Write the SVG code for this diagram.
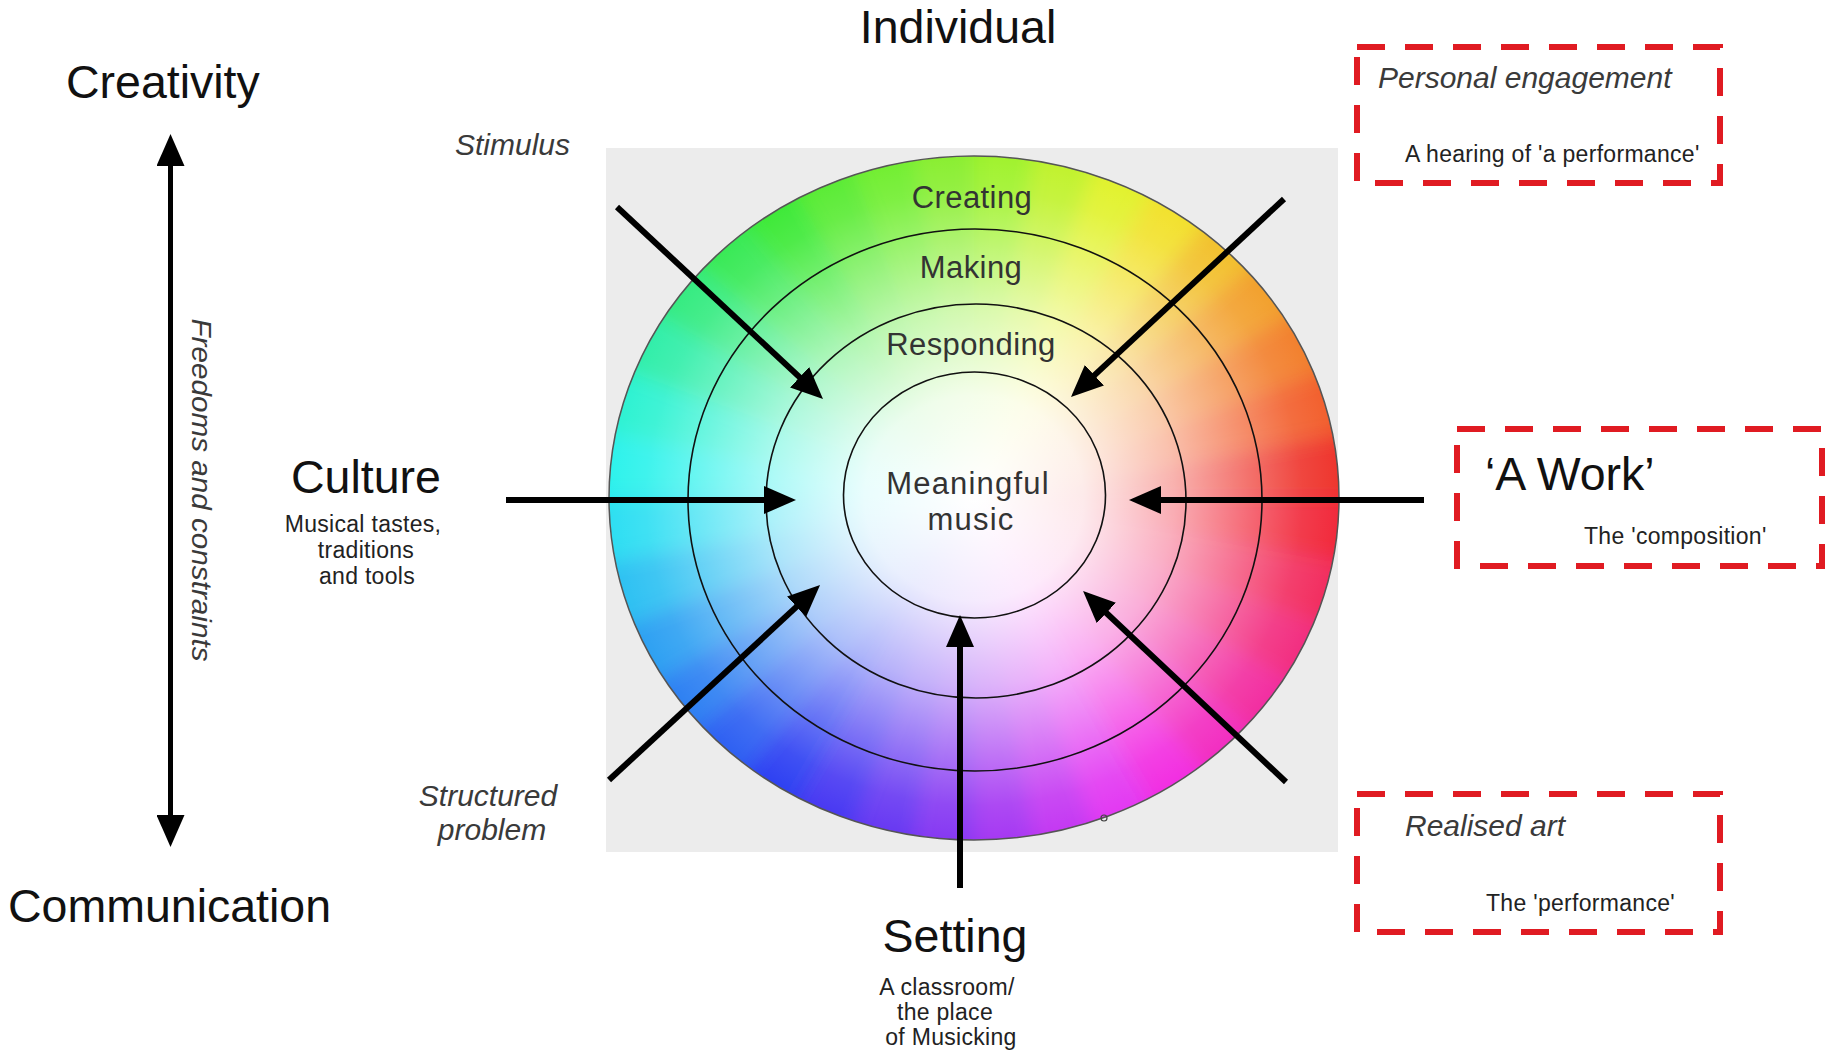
<svg xmlns="http://www.w3.org/2000/svg" width="1831" height="1055" viewBox="0 0 1831 1055">
<style>
text{font-family:"Liberation Sans",Arial,sans-serif;}
.big{font-size:46.5px;fill:#111;}
.ring{font-size:31px;fill:#333;text-anchor:middle;letter-spacing:0.4px;}
.it{font-size:30px;font-style:italic;fill:#3a3a3a;}
.small{font-size:23px;fill:#222;letter-spacing:0.3px;}
.mid{text-anchor:middle;}
.arrow{stroke:#000;stroke-width:6;fill:none;marker-end:url(#head);}
.box{fill:none;stroke:#e01b22;stroke-width:6;stroke-dasharray:28 20;}
.rl{fill:none;stroke:#111;stroke-width:1.6;}
.w{stroke-width:1;}
</style>
<defs>
<marker id="head" markerUnits="userSpaceOnUse" markerWidth="32" markerHeight="28" viewBox="0 0 32 28" refX="16" refY="14" orient="auto-start-reverse">
<path d="M0,0 L32,14 L0,28 Z" fill="#000"/>
</marker>
<clipPath id="wheelClip"><ellipse cx="974" cy="498" rx="365" ry="342"/></clipPath>
<filter id="soft" x="-20%" y="-20%" width="140%" height="140%"><feGaussianBlur stdDeviation="10"/></filter>
<radialGradient id="whiten" cx="0.5" cy="0.5" r="0.5">
<stop offset="0" stop-color="#fff" stop-opacity="1"/>
<stop offset="0.3" stop-color="#fff" stop-opacity="0.9"/>
<stop offset="0.55" stop-color="#fff" stop-opacity="0.62"/>
<stop offset="0.75" stop-color="#fff" stop-opacity="0.32"/>
<stop offset="0.9" stop-color="#fff" stop-opacity="0.1"/>
<stop offset="1" stop-color="#fff" stop-opacity="0.02"/>
</radialGradient>
</defs>
<rect width="1831" height="1055" fill="#fff"/>

<g id="wheel">
<rect x="606" y="148" width="732" height="704" fill="#ececec"/>
<g clip-path="url(#wheelClip)">
<g filter="url(#soft)">
<path d="M974 498L1424 498L1417.2 419.9Z" fill="hsl(2,85%,55%)"/>
<path d="M974 498L1417.2 419.9L1396.9 344.1Z" fill="hsl(15,88%,56%)"/>
<path d="M974 498L1396.9 344.1L1363.7 273Z" fill="hsl(25,88%,56%)"/>
<path d="M974 498L1363.7 273L1318.7 208.7Z" fill="hsl(35,88%,56%)"/>
<path d="M974 498L1318.7 208.7L1263.3 153.3Z" fill="hsl(45,88%,56%)"/>
<path d="M974 498L1263.3 153.3L1199 108.3Z" fill="hsl(55,88%,56%)"/>
<path d="M974 498L1199 108.3L1127.9 75.1Z" fill="hsl(65,88%,56%)"/>
<path d="M974 498L1127.9 75.1L1052.1 54.8Z" fill="hsl(75,88%,56%)"/>
<path d="M974 498L1052.1 54.8L974 48Z" fill="hsl(85,88%,56%)"/>
<path d="M974 498L974 48L895.9 54.8Z" fill="hsl(92,85%,56%)"/>
<path d="M974 498L895.9 54.8L820.1 75.1Z" fill="hsl(100,85%,56%)"/>
<path d="M974 498L820.1 75.1L749 108.3Z" fill="hsl(108,82%,56%)"/>
<path d="M974 498L749 108.3L684.7 153.3Z" fill="hsl(118,80%,56%)"/>
<path d="M974 498L684.7 153.3L629.3 208.7Z" fill="hsl(130,80%,56%)"/>
<path d="M974 498L629.3 208.7L584.3 273Z" fill="hsl(145,82%,56%)"/>
<path d="M974 498L584.3 273L551.1 344.1Z" fill="hsl(158,85%,56%)"/>
<path d="M974 498L551.1 344.1L530.8 419.9Z" fill="hsl(170,88%,56%)"/>
<path d="M974 498L530.8 419.9L524 498Z" fill="hsl(178,88%,56%)"/>
<path d="M974 498L524 498L530.8 576.1Z" fill="hsl(186,88%,56%)"/>
<path d="M974 498L530.8 576.1L551.1 651.9Z" fill="hsl(195,88%,56%)"/>
<path d="M974 498L551.1 651.9L584.3 723Z" fill="hsl(205,88%,56%)"/>
<path d="M974 498L584.3 723L629.3 787.3Z" fill="hsl(215,88%,56%)"/>
<path d="M974 498L629.3 787.3L684.7 842.7Z" fill="hsl(225,88%,56%)"/>
<path d="M974 498L684.7 842.7L749 887.7Z" fill="hsl(235,88%,56%)"/>
<path d="M974 498L749 887.7L820.1 920.9Z" fill="hsl(245,88%,58%)"/>
<path d="M974 498L820.1 920.9L895.9 941.2Z" fill="hsl(255,88%,58%)"/>
<path d="M974 498L895.9 941.2L974 948Z" fill="hsl(265,88%,58%)"/>
<path d="M974 498L974 948L1052.1 941.2Z" fill="hsl(275,88%,58%)"/>
<path d="M974 498L1052.1 941.2L1127.9 920.9Z" fill="hsl(285,88%,58%)"/>
<path d="M974 498L1127.9 920.9L1199 887.7Z" fill="hsl(295,88%,58%)"/>
<path d="M974 498L1199 887.7L1263.3 842.7Z" fill="hsl(305,88%,56%)"/>
<path d="M974 498L1263.3 842.7L1318.7 787.3Z" fill="hsl(315,88%,56%)"/>
<path d="M974 498L1318.7 787.3L1363.7 723Z" fill="hsl(325,88%,56%)"/>
<path d="M974 498L1363.7 723L1396.9 651.9Z" fill="hsl(335,88%,56%)"/>
<path d="M974 498L1396.9 651.9L1417.2 576.1Z" fill="hsl(345,88%,56%)"/>
<path d="M974 498L1417.2 576.1L1424 498Z" fill="hsl(355,88%,55%)"/>
</g>
<ellipse cx="974" cy="498" rx="365" ry="342" fill="url(#whiten)"/>
</g>
<ellipse cx="974" cy="498" rx="365" ry="342" fill="none" stroke="#555" stroke-width="1.5"/>
<ellipse class="rl" cx="975" cy="500" rx="287" ry="271"/>
<ellipse class="rl" cx="976" cy="501" rx="210" ry="197"/>
<ellipse class="rl" cx="974.5" cy="495" rx="131" ry="123"/>
<circle cx="1104" cy="818" r="3" fill="none" stroke="#444" stroke-width="1.2"/>
<text class="ring" x="972" y="208">Creating</text>
<text class="ring" x="971" y="278">Making</text>
<text class="ring" x="971" y="355">Responding</text>
<text class="ring" x="968" y="494" style="letter-spacing:1.2px">Meaningful</text>
<text class="ring" x="971" y="530" style="letter-spacing:1.2px">music</text>
</g>

<g id="connectors">
<line x1="170.5" y1="150" x2="170.5" y2="831" stroke="#000" stroke-width="5" marker-start="url(#head)" marker-end="url(#head)"/>
<line class="arrow" x1="617" y1="207" x2="811.3" y2="388.1"/>
<line class="arrow" x1="1284" y1="199" x2="1082.7" y2="386.1"/>
<line class="arrow" x1="506" y1="500" x2="780" y2="500"/>
<line class="arrow" x1="1424" y1="500" x2="1145" y2="500"/>
<line class="arrow" x1="609" y1="780" x2="808.3" y2="595.9"/>
<line class="arrow" x1="1286" y1="782" x2="1094.7" y2="602"/>
<line class="arrow" x1="960" y1="888" x2="960" y2="631"/>
</g>

<g id="individual"><text class="big mid" x="958" y="43">Individual</text></g>
<g id="creativity"><text class="big" x="66" y="98">Creativity</text></g>
<g id="communication"><text class="big" x="8" y="922">Communication</text></g>
<g id="freedoms"><text class="it mid" transform="translate(192,490) rotate(90)" textLength="343" lengthAdjust="spacingAndGlyphs" style="font-size:28px">Freedoms and constraints</text></g>
<g id="stimulus"><text class="it" x="455" y="155">Stimulus</text></g>
<g id="structured"><text class="it mid" x="488" y="806">Structured</text><text class="it mid" x="492" y="840">problem</text></g>
<g id="culture">
<text class="big" x="291" y="493">Culture</text>
<text class="small mid" x="363" y="532">Musical tastes,</text>
<text class="small mid" x="366" y="558">traditions</text>
<text class="small mid" x="367" y="584">and tools</text>
</g>
<g id="setting">
<text class="big mid" x="955" y="952">Setting</text>
<text class="small mid" x="947" y="995">A classroom/</text>
<text class="small mid" x="945" y="1020">the place</text>
<text class="small mid" x="951" y="1045">of Musicking</text>
</g>
<g id="personal">
<rect class="box" x="1357" y="47" width="363" height="136"/>
<text class="it" x="1378" y="88">Personal engagement</text>
<text class="small" x="1405" y="162">A hearing of 'a performance'</text>
</g>
<g id="work">
<rect class="box" x="1457" y="429" width="365" height="137"/>
<text class="big" x="1485" y="490">‘A Work’</text>
<text class="small" x="1584" y="544">The 'composition'</text>
</g>
<g id="realised">
<rect class="box" x="1357" y="794" width="363" height="138"/>
<text class="it" x="1405" y="836">Realised art</text>
<text class="small" x="1486" y="911">The 'performance'</text>
</g>
</svg>
